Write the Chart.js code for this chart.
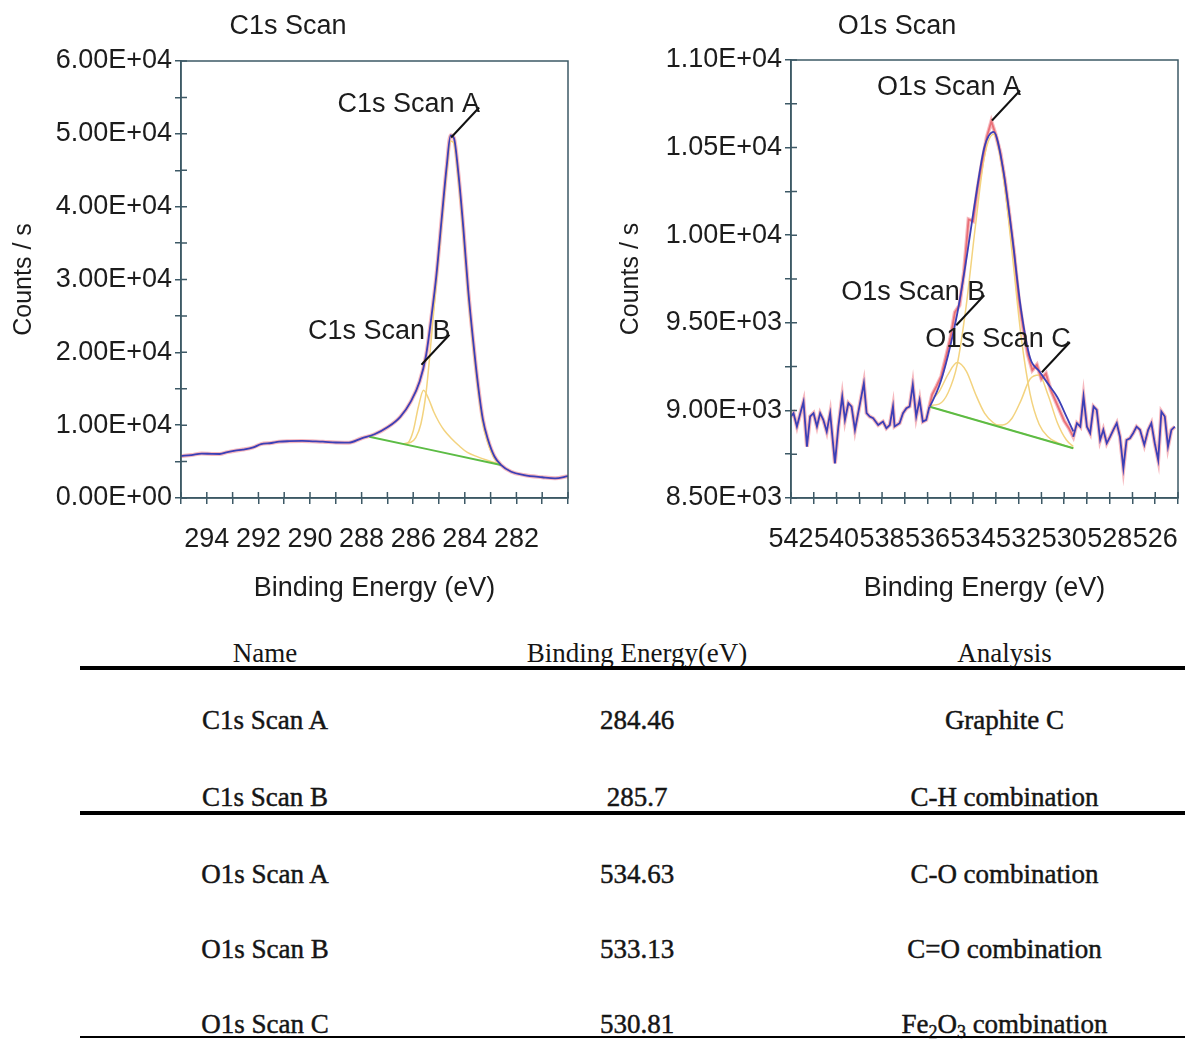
<!DOCTYPE html>
<html lang="en">
<head>
<meta charset="utf-8">
<title>XPS C1s / O1s</title>
<script src="https://cdn.jsdelivr.net/npm/chart.js@4.4.1/dist/chart.umd.min.js"></script>
<style>
  html, body { margin: 0; padding: 0; background: #fff; }
  body { width: 1185px; height: 1040px; position: relative; overflow: hidden; }
  .panel { position: absolute; top: 0; height: 615px; }
  #panelC1s { left: 0; width: 600px; }
  #panelO1s { left: 600px; width: 585px; }
  #tabla { position: absolute; left: 0; top: 0; width: 1185px; height: 1040px;
           font-family: "Liberation Serif", "Times New Roman", serif; font-size: 27px; color: #151515; }
  .fila { position: absolute; left: 80px; width: 1105px; height: 34px; line-height: 34px; }
  .fila.cuerpo { -webkit-text-stroke: 0.45px #151515; }
  .celda { position: absolute; top: 0; text-align: center; white-space: nowrap; }
  .c1 { left: 0; width: 370px; }
  .c2 { left: 370px; width: 374px; }
  .c3 { left: 744px; width: 361px; }
  .regla { position: absolute; left: 80px; width: 1105px; background: #000; }
  sub { font-size: 18px; vertical-align: -5px; line-height: 0; }
</style>
</head>
<body>
<div id="tabla"></div>
<div class="panel" id="panelC1s"><canvas id="graficoC1s"></canvas></div>
<div class="panel" id="panelO1s"><canvas id="graficoO1s"></canvas></div>

<script>
// ---------- C1s: espectro medido (eV, cuentas/s) ----------
const c1sEnergia = [295.0, 294.6, 294.2, 293.8, 293.5, 293.2, 292.9, 292.6, 292.2, 291.9, 291.5, 291.2,
  290.8, 290.3, 289.9, 289.5, 289.0, 288.5, 288.0, 287.5, 287.0, 286.5, 286.1, 285.75, 285.5, 285.3,
  285.1, 284.9, 284.7, 284.55, 284.42, 284.25, 284.06, 283.87, 283.68, 283.48, 283.3, 283.1, 282.85,
  282.6, 282.2, 281.7, 281.0, 280.5, 280.0];
const c1sCuentas = [5770, 5900, 6100, 6050, 6040, 6300, 6500, 6650, 6950, 7400, 7550, 7730,
  7800, 7830, 7780, 7730, 7620, 7600, 8200, 8750, 9700, 11150, 13200, 16000, 19600, 24700,
  30600, 38200, 45600, 49800, 49400, 44600, 37200, 28600, 21700, 15300, 10800, 8000, 5700,
  4550, 3600, 3150, 2850, 2700, 3000];

// componentes del ajuste C1s
const c1sPicoAEnergia = [286.4, 286.1, 285.9, 285.7, 285.5, 285.3, 285.1, 284.9, 284.7, 284.55, 284.42,
  284.25, 284.06, 283.87, 283.68, 283.48, 283.3, 283.1, 282.85, 282.6];
const c1sPicoACuentas = [7430, 7650, 8300, 10200, 14500, 21800, 29800, 37600, 44800, 49000, 48700,
  43700, 36300, 27800, 21000, 14700, 10200, 7500, 5400, 4530];
const c1sPicoBEnergia = [286.4, 286.2, 286.0, 285.8, 285.6, 285.4, 285.2, 285.0, 284.8, 284.5, 284.2,
  283.9, 283.5, 283.1, 282.6];
const c1sPicoBCuentas = [7430, 7600, 9200, 12500, 14800, 13600, 11800, 10400, 9300, 8100, 7100,
  6250, 5650, 5150, 4580];
const c1sFondoEnergia = [287.7, 282.6];
const c1sFondoCuentas = [8420, 4530];

const c1sEtiquetas = ['C1s Scan A', 'C1s Scan B'];
const c1sEtiquetaEnergia = [284.53, 285.68];
const c1sEtiquetaCuentas = [49500, 18300];

// ---------- O1s: espectro medido (ruidoso) ----------
const o1sEnergia = [542.0, 541.89, 541.74, 541.59, 541.45, 541.3, 541.16, 541.01, 540.86, 540.72, 540.58,
  540.43, 540.28, 540.07, 539.92, 539.75, 539.63, 539.48, 539.34, 539.19, 539.05, 538.8, 538.68, 538.54,
  538.39, 538.17, 537.96, 537.81, 537.66, 537.52, 537.45, 537.23, 537.08, 536.93, 536.79, 536.65, 536.5,
  536.35, 536.21, 536.06, 535.92,
  535.8, 535.6, 535.4, 535.2, 535.0, 534.8, 534.6, 534.4, 534.2, 534.0, 533.8, 533.6, 533.4, 533.2, 533.0,
  532.8, 532.6, 532.4, 532.2, 532.0, 531.8, 531.6, 531.4, 531.2, 531.0, 530.8, 530.6, 530.4, 530.2, 530.0,
  529.8, 529.6,
  529.44, 529.29, 529.15, 529.0, 528.86, 528.71, 528.57, 528.42, 528.28, 528.13, 527.98, 527.84, 527.69,
  527.55, 527.4, 527.26, 527.11, 526.97, 526.82, 526.67, 526.48, 526.31, 526.17, 526.02, 525.87, 525.73,
  525.58, 525.44, 525.29, 525.14];
const o1sCuentas = [8965, 8984, 8908, 8984, 9050, 8793, 8965, 8984, 8908, 8984, 8946,
  8879, 8984, 8698, 8908, 9079, 8946, 9041, 9022, 8889, 8984, 9155, 8984, 8965,
  8955, 8917, 8936, 8898, 8917, 9022, 8908, 8927, 8984, 9012, 9022, 9146, 8965,
  9060, 8936, 8946, 9022,
  9090, 9140, 9195, 9300, 9410, 9560, 9600, 9790, 10090, 10080, 10270, 10420, 10560, 10650, 10570,
  10470, 10310, 10110, 9900, 9640, 9470, 9320, 9230, 9260, 9180, 9210, 9120, 9060, 9000, 8940,
  8900, 8850,
  8927, 8907, 9079, 8907, 8870, 9022, 9003, 8831, 8889, 8812, 8850, 8889, 8927,
  8850, 8670, 8831, 8841, 8870, 8907, 8889, 8803, 8889, 8927, 8812, 8717, 8993,
  8965, 8793, 8889, 8907];

// ajuste O1s (misma malla para envolvente y componentes)
const o1sAjusteEnergia = [535.9, 535.5, 535.1, 534.7, 534.3, 533.9, 533.5, 533.1, 532.7, 532.3, 531.9,
  531.5, 531.1, 530.7, 530.3, 529.9, 529.6];
const o1sEnvolvente = [9022, 9136, 9315, 9550, 9860, 10205, 10505, 10590, 10390, 10010, 9580,
  9300, 9225, 9150, 9075, 8965, 8880];
const o1sPicoA = [9029, 9036, 9101, 9261, 9601, 10051, 10451, 10576, 10361, 9916, 9431,
  9096, 8921, 8848, 8816, 8796, 8784];
const o1sPicoB = [9051, 9106, 9206, 9273, 9224, 9095, 8985, 8928, 8903, 8886, 8871,
  8856, 8841, 8826, 8811, 8796, 8784];
const o1sPicoC = [9021, 9006, 8991, 8976, 8961, 8946, 8931, 8918, 8917, 8954, 9056,
  9179, 9202, 9085, 8930, 8831, 8794];
const o1sFondoEnergia = [535.9, 529.6];
const o1sFondoCuentas = [9021, 8784];

const o1sEtiquetas = ['O1s Scan A', 'O1s Scan B', 'O1s Scan C'];
const o1sEtiquetaEnergia = [533.17, 534.74, 530.98];
const o1sEtiquetaCuentas = [10655, 9486, 9218];

// ---------- Tabla ----------
const tablaEncabezado = ['Name', 'Binding Energy(eV)', 'Analysis'];
const tablaNombres = ['C1s Scan A', 'C1s Scan B', 'O1s Scan A', 'O1s Scan B', 'O1s Scan C'];
const tablaEnergias = ['284.46', '285.7', '534.63', '533.13', '530.81'];
const tablaAnalisis = ['Graphite C', 'C-H combination', 'C-O combination', 'C=O combination',
  'Fe<sub>2</sub>O<sub>3</sub> combination'];

// estilos
const COLOR_EJE = '#3d5966';
const COLOR_TEXTO = '#1c1c1c';
const AZUL = '#3c3fb6';
const ROSA = 'rgba(238,128,138,0.55)';
const ROJO = '#ea7077';
const AMARILLO = '#f3d37f';
const VERDE = '#5cbc45';
const FUENTE = '"Liberation Sans", Arial, sans-serif';

const puntos = (xs, ys) => xs.map((x, i) => ({ x, y: ys[i] }));

function formatoCientifico(v) {
    if (v === 0) return '0.00E+00';
    const exp = Math.floor(Math.log10(Math.abs(v)) + 1e-9);
    const mant = v / Math.pow(10, exp);
    return mant.toFixed(2) + 'E' + (exp < 0 ? '-' : '+') + String(Math.abs(exp)).padStart(2, '0');
}

// Plugin: marco, marcas internas, título y etiquetas de picos
const pluginDecoracion = {
    id: 'decoracionXPS',
    afterDraw(chart, args, opts) {
        const { ctx, chartArea: area, scales: { x, y } } = chart;
        ctx.save();

        ctx.strokeStyle = COLOR_EJE;
        ctx.lineWidth = 1.5;
        ctx.strokeRect(area.left, area.top, area.right - area.left, area.bottom - area.top);

        ctx.beginPath();
        x.ticks.forEach((t, i) => {
            const px = x.getPixelForTick(i);
            if (px < area.left - 1 || px > area.right + 1) return;
            ctx.moveTo(px, area.bottom);
            ctx.lineTo(px, area.bottom - 6);
        });
        y.ticks.forEach((t, i) => {
            const py = y.getPixelForTick(i);
            ctx.moveTo(area.left, py);
            ctx.lineTo(area.left + 6, py);
        });
        ctx.stroke();

        ctx.fillStyle = COLOR_TEXTO;
        ctx.font = '27px ' + FUENTE;
        ctx.textAlign = 'center';
        ctx.textBaseline = 'middle';
        ctx.fillText(opts.titulo, area.left + opts.tituloDx, 27);

        // líneas guía hacia los picos
        ctx.textAlign = 'right';
        ctx.strokeStyle = '#111';
        ctx.lineWidth = 2;
        opts.etiquetas.forEach((txt, i) => {
            const px = x.getPixelForValue(opts.energias[i]);
            const py = y.getPixelForValue(opts.cuentas[i]);
            const fx = px + 28, fy = py - 30;
            ctx.beginPath();
            ctx.moveTo(px, py);
            ctx.lineTo(fx, fy);
            ctx.stroke();
            ctx.fillText(txt, fx + 1, fy - 3);
        });
        ctx.restore();
    }
};
Chart.register(pluginDecoracion);

function opcionesGrafico(cfg) {
    const fuenteTicks = { family: FUENTE, size: 27 };
    return {
        responsive: true,
        maintainAspectRatio: false,
        animation: false,
        devicePixelRatio: 1,
        events: [],
        layout: { padding: { top: cfg.margenSup, right: cfg.margenDer, left: 0, bottom: 0 } },
        elements: { point: { radius: 0 }, line: { fill: false } },
        plugins: {
            legend: { display: false },
            tooltip: { enabled: false },
            decoracionXPS: cfg.decoracion
        },
        scales: {
            x: {
                type: 'linear',
                reverse: true,
                min: cfg.xMin,
                max: cfg.xMax,
                // alto fijo y sin reservar espacio lateral para las etiquetas extremas
                afterFit: s => { s.height = 117; s.paddingLeft = 0; s.paddingRight = 0; },
                border: { color: COLOR_EJE, width: 1.5 },
                grid: { drawOnChartArea: false, color: COLOR_EJE, lineWidth: 1.5, tickLength: 6 },
                ticks: {
                    stepSize: 1, maxTicksLimit: 100, autoSkip: false, maxRotation: 0, minRotation: 0,
                    padding: 19, color: COLOR_TEXTO, font: fuenteTicks,
                    callback: v => {
                        const n = Math.round(v);
                        return (n % 2 === 0 && cfg.etiquetaX(n)) ? String(n) : '';
                    }
                },
                title: {
                    display: true, text: 'Binding Energy (eV)', color: COLOR_TEXTO,
                    font: fuenteTicks, padding: { top: 0, bottom: 10 }
                }
            },
            y: {
                type: 'linear',
                min: cfg.yMin,
                max: cfg.yMax,
                afterFit: s => { s.width = cfg.anchoY; },
                border: { color: COLOR_EJE, width: 1.5 },
                grid: { drawOnChartArea: false, color: COLOR_EJE, lineWidth: 1.5, tickLength: 6 },
                ticks: {
                    stepSize: cfg.yPaso, maxTicksLimit: 100, autoSkip: false, padding: 3,
                    color: COLOR_TEXTO, font: fuenteTicks,
                    callback: v => (Math.round(v) % cfg.yEtiqueta === 0) ? formatoCientifico(v) : ''
                },
                title: {
                    display: true, text: 'Counts / s', color: COLOR_TEXTO,
                    font: { family: FUENTE, size: 25 }, padding: { top: cfg.tituloYPad, bottom: 0 }
                }
            }
        }
    };
}

function lineaSuave(datos, color, ancho, orden) {
    return { data: datos, borderColor: color, borderWidth: ancho, cubicInterpolationMode: 'monotone', order: orden };
}

function inicializarGraficos() {
    new Chart(document.getElementById('graficoC1s'), {
        type: 'line',
        data: {
            datasets: [
                lineaSuave(puntos(c1sEnergia, c1sCuentas), AZUL, 1.8, 1),
                lineaSuave(puntos(c1sFondoEnergia, c1sFondoCuentas), VERDE, 2, 2),
                lineaSuave(puntos(c1sPicoAEnergia, c1sPicoACuentas), AMARILLO, 1.5, 3),
                lineaSuave(puntos(c1sPicoBEnergia, c1sPicoBCuentas), AMARILLO, 1.5, 3),
                lineaSuave(puntos(c1sEnergia, c1sCuentas), ROSA, 4, 5)
            ]
        },
        options: opcionesGrafico({
            xMin: 280, xMax: 295, yMin: 0, yMax: 60000, yPaso: 5000, yEtiqueta: 10000,
            etiquetaX: n => n !== 280 && n !== 295,
            anchoY: 181, margenSup: 61, margenDer: 32, tituloYPad: 9,
            decoracion: {
                titulo: 'C1s Scan', tituloDx: 107,
                etiquetas: c1sEtiquetas, energias: c1sEtiquetaEnergia, cuentas: c1sEtiquetaCuentas
            }
        })
    });

    const iniAjuste = o1sAjusteEnergia[0] + 0.05;
    const finAjuste = o1sAjusteEnergia[o1sAjusteEnergia.length - 1] - 0.05;

    new Chart(document.getElementById('graficoO1s'), {
        type: 'line',
        data: {
            datasets: [
                lineaSuave(puntos(o1sAjusteEnergia, o1sEnvolvente), AZUL, 1.8, 1),
                {
                    data: puntos(o1sEnergia, o1sCuentas), borderWidth: 1.8, tension: 0, order: 2,
                    borderColor: AZUL,
                    segment: {
                        borderColor: c => (c.p0.parsed.x <= iniAjuste && c.p1.parsed.x >= finAjuste) ? ROJO : AZUL
                    }
                },
                lineaSuave(puntos(o1sFondoEnergia, o1sFondoCuentas), VERDE, 2, 3),
                lineaSuave(puntos(o1sAjusteEnergia, o1sPicoA), AMARILLO, 1.5, 4),
                lineaSuave(puntos(o1sAjusteEnergia, o1sPicoB), AMARILLO, 1.5, 4),
                lineaSuave(puntos(o1sAjusteEnergia, o1sPicoC), AMARILLO, 1.5, 4),
                { data: puntos(o1sEnergia, o1sCuentas), borderColor: ROSA, borderWidth: 4, tension: 0, order: 6 }
            ]
        },
        options: opcionesGrafico({
            xMin: 525, xMax: 542, yMin: 8500, yMax: 11000, yPaso: 250, yEtiqueta: 500,
            etiquetaX: n => true,
            anchoY: 191, margenSup: 60, margenDer: 7, tituloYPad: 16,
            decoracion: {
                titulo: 'O1s Scan', tituloDx: 106,
                etiquetas: o1sEtiquetas, energias: o1sEtiquetaEnergia, cuentas: o1sEtiquetaCuentas
            }
        })
    });
}

function renderizarTabla() {
    const cont = document.getElementById('tabla');
    const filasY = [653, 720, 797, 874, 949, 1024];
    const reglas = [[666, 4], [811, 4], [1036, 2]];

    const filas = [tablaEncabezado].concat(tablaNombres.map((n, i) => [n, tablaEnergias[i], tablaAnalisis[i]]));
    filas.forEach((f, i) => {
        const div = document.createElement('div');
        div.className = i === 0 ? 'fila' : 'fila cuerpo';
        div.style.top = (filasY[i] - 17) + 'px';
        div.innerHTML = `<div class="celda c1">${f[0]}</div><div class="celda c2">${f[1]}</div><div class="celda c3">${f[2]}</div>`;
        cont.appendChild(div);
    });
    reglas.forEach(([top, alto]) => {
        const r = document.createElement('div');
        r.className = 'regla';
        r.style.top = top + 'px';
        r.style.height = alto + 'px';
        cont.appendChild(r);
    });
}

renderizarTabla();
inicializarGraficos();
</script>
</body>
</html>
